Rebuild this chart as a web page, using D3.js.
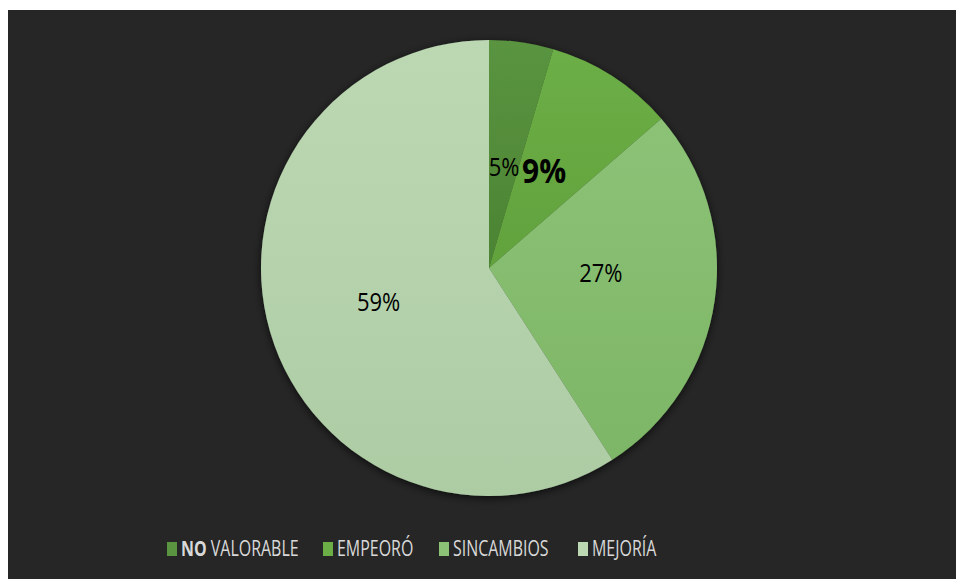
<!DOCTYPE html>
<html>
<head>
    <meta charset="utf-8">
    <title>Pie</title>
    <script src="https://d3js.org/d3.v7.min.js"></script>
    <style>
        body { margin: 0; background: #ffffff; }
        svg { display: block; font-family: "Open Sans", "Liberation Sans", sans-serif; }
    </style>
</head>
<body>
    <svg id="chart" width="956" height="579"></svg>

    <script>
        // categories and counts (22 cases in total)
        var categories = ["NO VALORABLE", "EMPEORÓ", "SINCAMBIOS", "MEJORÍA"]
        var counts = [1, 2, 6, 13]
        var pctLabels = ["5%", "9%", "27%", "59%"]
        var colors = ["#5a9440", "#6cae46", "#8cc276", "#bcd8b3"]
        var colorsDark = ["#4b8433", "#62a23d", "#7db666", "#adcca4"]

        var svg = d3.select("#chart")
        var W = 956, H = 579
        var cx = 489, cy = 268, R = 228

        svg.append("rect")
            .attr("x", 8).attr("y", 10)
            .attr("width", W - 8).attr("height", H - 10)
            .attr("fill", "#262626")

        var defs = svg.append("defs")
        var f = defs.append("filter").attr("id", "shadow")
            .attr("x", "-10%").attr("y", "-10%").attr("width", "120%").attr("height", "120%")
        f.append("feDropShadow").attr("dx", 0).attr("dy", 2).attr("stdDeviation", 4)
            .attr("flood-color", "#000").attr("flood-opacity", 0.7)

        colors.forEach((c, i) => {
            var g = defs.append("linearGradient").attr("id", "g" + i)
                .attr("x1", 0).attr("y1", 0).attr("x2", 0).attr("y2", 1)
            g.append("stop").attr("offset", "0%").attr("stop-color", c)
            g.append("stop").attr("offset", "100%").attr("stop-color", colorsDark[i])
        })

        var pie = d3.pie().sort(null).value(d => d)
        var arcs = pie(counts)
        var arc = d3.arc().innerRadius(0).outerRadius(R)
        var labelArc = d3.arc().innerRadius(113).outerRadius(113)

        var g = svg.append("g").attr("transform", "translate(" + cx + "," + cy + ")")

        g.append("g").attr("filter", "url(#shadow)")
            .selectAll("path")
            .data(arcs).enter()
            .append("path")
            .attr("d", arc)
            .attr("fill", (d, i) => "url(#g" + i + ")")

        // labels moved a bit, like excel did it
        var nudge = [[-1, 11], [-6, -2], [0, -11], [-2, 2]]

        g.selectAll("text.lbl")
            .data(arcs).enter()
            .append("text")
            .attr("class", "lbl")
            .attr("transform", (d, i) => {
                var c = labelArc.centroid(d)
                return "translate(" + (c[0] + nudge[i][0]) + "," + (c[1] + nudge[i][1]) + ") scale(0.88,1)"
            })
            .attr("text-anchor", "middle")
            .attr("dy", "0.36em")
            .style("font-size", (d, i) => i == 1 ? "34px" : "25px")
            .style("font-weight", (d, i) => i == 1 ? "bold" : "normal")
            .attr("fill", "#000")
            .text((d, i) => pctLabels[i])

        // legend
        var legX = [167, 323, 439, 578]
        var leg = svg.append("g")
        categories.forEach((c, i) => {
            leg.append("rect")
                .attr("x", legX[i]).attr("y", 542)
                .attr("width", 10).attr("height", 14)
                .attr("fill", colors[i])
            var t = leg.append("text")
                .attr("transform", "translate(" + (legX[i] + 14) + ",556) scale(0.76,1)")
                .attr("fill", "#d9d9d9")
                .style("font-size", "21px")
            if (i == 0) {
                t.append("tspan").style("font-weight", "bold").text("NO")
                t.append("tspan").text(" VALORABLE")
            } else {
                t.text(c)
            }
        })
    </script>
</body>
</html>
